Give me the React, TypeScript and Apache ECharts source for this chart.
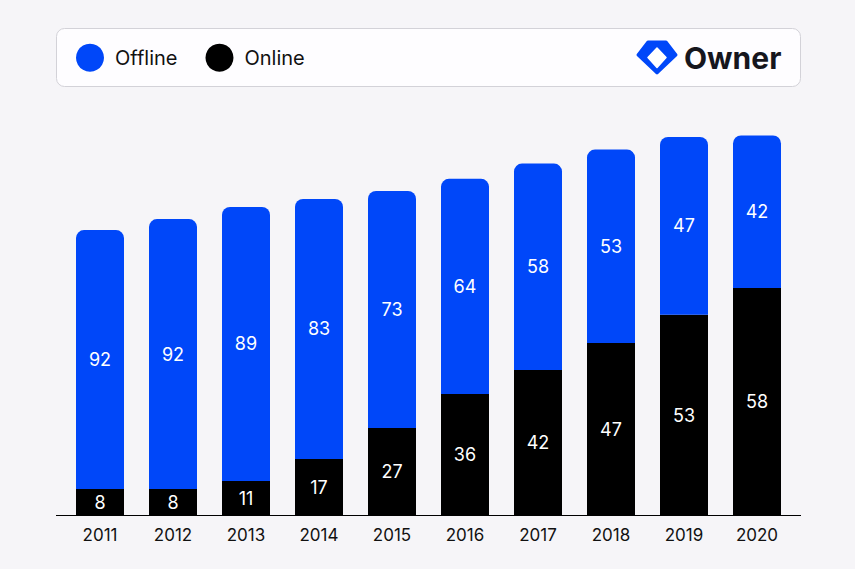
import React, { useEffect, useRef } from 'react';
import * as echarts from 'echarts';

const years = ['2011', '2012', '2013', '2014', '2015', '2016', '2017', '2018', '2019', '2020'];
// segment heights (relative market size, 2020 total = 100)
const onlineValues = [7.0, 7.0, 9.1, 14.9, 23.0, 32.0, 38.3, 45.4, 52.8, 59.9];
const offlineValues = [68.1, 71.0, 72.1, 68.4, 62.4, 56.6, 54.3, 50.9, 46.8, 40.1];
// shares shown in the bars (%)
const onlineShare = [8, 8, 11, 17, 27, 36, 42, 47, 53, 58];
const offlineShare = [92, 92, 89, 83, 73, 64, 58, 53, 47, 42];

const BLUE = '#0047f9';
const BLACK = '#000000';
const FONT = 'Inter, "Noto Sans", sans-serif';

const App: React.FC = () => {
  const chartRef = useRef<HTMLDivElement>(null);

  useEffect(() => {
    if (!chartRef.current) return;
    const chart = echarts.init(chartRef.current, null, { renderer: 'svg' });

    const barLabel = (shares: number[]) => ({
      show: true,
      position: 'inside',
      color: '#ffffff',
      fontSize: 18,
      fontFamily: FONT,
      formatter: (p: any) => String(shares[p.dataIndex]),
    });

    chart.setOption({
      animation: false,
      backgroundColor: '#f6f5f8',
      textStyle: { fontFamily: FONT },
      legend: {
        data: ['Offline', 'Online'],
        left: 76,
        top: 43.7,
        padding: 0,
        icon: 'circle',
        itemWidth: 28,
        itemHeight: 28,
        itemGap: 28,
        textStyle: { fontSize: 20, color: '#111111', fontFamily: FONT, padding: [0, 0, 0, 6] },
        selectedMode: false,
        z: 10,
      },
      graphic: [
        {
          type: 'rect',
          shape: { x: 56.5, y: 28.5, width: 744, height: 58, r: 8 },
          style: { fill: '#fefdff', stroke: '#d3d2d8', lineWidth: 1 },
          z: 1,
        },
        {
          type: 'polygon',
          shape: { points: [[648, 42], [666, 42], [676, 55], [657, 73], [638, 55]] },
          style: { fill: BLUE, stroke: BLUE, lineWidth: 3, lineJoin: 'round' },
          z: 5,
        },
        {
          type: 'polygon',
          shape: { points: [[657, 48], [666, 57.5], [657, 67.5], [648, 57.5]] },
          style: { fill: '#ffffff', stroke: '#ffffff', lineWidth: 1.5, lineJoin: 'round' },
          z: 6,
        },
        {
          type: 'text',
          x: 684,
          y: 58,
          style: {
            text: 'Owner',
            fill: '#16161d',
            fontSize: 30,
            fontWeight: 'bold',
            fontFamily: FONT,
            textVerticalAlign: 'middle',
          },
          z: 5,
        },
        {
          type: 'line',
          shape: { x1: 56, y1: 515.5, x2: 801, y2: 515.5 },
          style: { stroke: '#000000', lineWidth: 1 },
          z: 5,
        },
      ],
      grid: { left: 63.5, width: 730, top: 135.5, height: 380 },
      xAxis: {
        type: 'category',
        data: years,
        axisLine: { show: false },
        axisTick: { show: false },
        axisLabel: { color: '#111111', fontSize: 17, margin: 11, fontFamily: FONT },
      },
      yAxis: {
        type: 'value',
        min: 0,
        max: 100,
        show: false,
        splitLine: { show: false },
      },
      series: [
        {
          name: 'Online',
          type: 'bar',
          stack: 'total',
          barWidth: 48,
          data: onlineValues,
          itemStyle: { color: BLACK },
          label: barLabel(onlineShare),
        },
        {
          name: 'Offline',
          type: 'bar',
          stack: 'total',
          barWidth: 48,
          data: offlineValues,
          itemStyle: { color: BLUE, borderRadius: [8, 8, 0, 0] },
          label: barLabel(offlineShare),
        },
      ],
    });

    return () => {
      chart.dispose();
    };
  }, []);

  return (
    <div
      ref={chartRef}
      style={{ position: 'fixed', left: 0, top: 0, width: 855, height: 569 }}
    />
  );
};

export default App;
